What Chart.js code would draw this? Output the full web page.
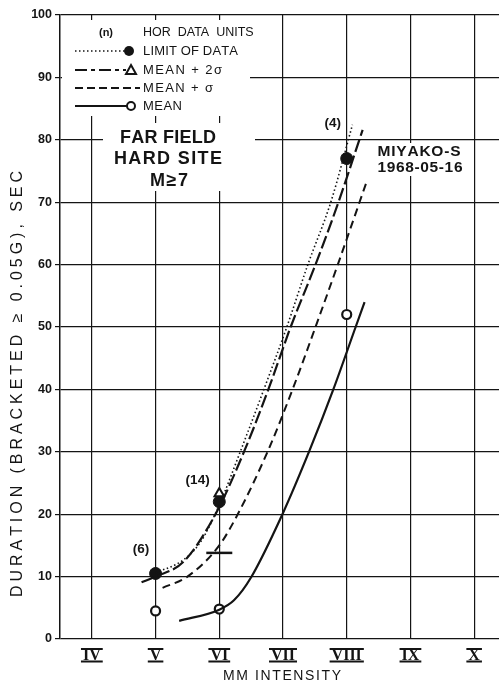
<!DOCTYPE html>
<html>
<head>
<meta charset="utf-8">
<script src="https://cdn.jsdelivr.net/npm/chart.js@4.4.1/dist/chart.umd.min.js"></script>
<style>
  html, body { margin: 0; padding: 0; background: #fff; overflow: hidden; }
  canvas { display: block; }
</style>
</head>
<body>
<canvas id="myChart" width="499" height="687"></canvas>
<script>
// MM intensity ticks (x) and duration ticks (y)
const xTicks = [4, 5, 6, 7, 8, 9, 10]
const romanLabels = ['IV', 'V', 'VI', 'VII', 'VIII', 'IX', 'X']
const yMin = 0
const yMax = 100
const yStep = 10

// curves (intensity, duration sec)
const limitX = [5.0, 5.44, 5.71, 6.0, 6.34, 6.70, 7.06, 7.39, 7.75, 8.09]
const limitY = [10.6, 12.7, 15.6, 21.5, 30.3, 40, 50, 60, 70, 82.4]
const mean2sX = [4.78, 5.0, 5.44, 5.94, 6.4, 6.77, 7.12, 7.51, 7.87, 8.25]
const mean2sY = [9.1, 10.0, 12.4, 20, 30.3, 40, 50, 60, 70, 81.6]
const mean1sX = [5.11, 5.5, 6.0, 6.29, 6.77, 7.15, 7.51, 7.86, 8.31]
const mean1sY = [8.2, 10.0, 15.0, 20, 30.3, 40, 50, 60, 73.2]
const meanX = [5.37, 6.0, 6.23, 6.5, 7.0, 7.42, 7.79, 8.14, 8.28]
const meanY = [2.9, 4.7, 6.2, 9.9, 20.2, 30.3, 40, 50, 54]

// data points
const limitPtsX = [5, 6, 8]
const limitPtsY = [10.5, 22, 77]
const mean2sPtsX = [6]
const mean2sPtsY = [23.3]
const mean1sPtsX = [6]
const mean1sPtsY = [13.8]
const meanPtsX = [5, 6, 8]
const meanPtsY = [4.5, 4.8, 52]

// number of records (n)
const countLabels = ['(6)', '(14)', '(4)']
const countX = [4.77, 5.66, 7.78]
const countY = [14.3, 25.5, 82.7]

const ink = '#141414'
const sans = '"Liberation Sans", Arial, sans-serif'

function pts(xs, ys){
    return xs.map((x, i) => ({x: x, y: ys[i]}))
}

function curve(xs, ys, dash, width){
    return {
        type: 'line',
        data: pts(xs, ys),
        borderColor: ink,
        borderWidth: width,
        borderDash: dash,
        pointRadius: 0,
        cubicInterpolationMode: 'monotone',
        fill: false,
    }
}

function marks(xs, ys, style, radius, bg, bw){
    return {
        type: 'scatter',
        data: pts(xs, ys),
        pointStyle: style,
        pointRadius: radius,
        pointBackgroundColor: bg,
        pointBorderColor: ink,
        pointBorderWidth: bw,
        showLine: false,
    }
}

// draw text stretched with letter spacing to a given width
function spaced(ctx, text, x, y, width, align){
    const chars = Array.from(text)
    const raw = chars.reduce((s, c) => s + ctx.measureText(c).width, 0)
    const gap = chars.length > 1 ? (width - raw) / (chars.length - 1) : 0
    let cx = align == 'center' ? x - width/2 : x
    ctx.save()
    ctx.textAlign = 'left'
    chars.forEach(c => {
        ctx.fillText(c, cx, y)
        cx += ctx.measureText(c).width + gap
    })
    ctx.restore()
}

function drawMarker(ctx, style, x, y){
    ctx.save()
    ctx.setLineDash([])
    ctx.lineWidth = 2
    ctx.strokeStyle = ink
    if(style == 'dot'){
        ctx.fillStyle = ink
        ctx.beginPath(); ctx.arc(x, y, 5, 0, Math.PI*2); ctx.fill()
    } else if(style == 'ring'){
        ctx.fillStyle = '#fff'
        ctx.beginPath(); ctx.arc(x, y, 4, 0, Math.PI*2); ctx.fill(); ctx.stroke()
    } else if(style == 'tri'){
        ctx.fillStyle = '#fff'
        ctx.beginPath(); ctx.moveTo(x, y-5); ctx.lineTo(x+5, y+4); ctx.lineTo(x-5, y+4); ctx.closePath()
        ctx.fill(); ctx.stroke()
    }
    ctx.restore()
}

const textPlugin = {
    id: 'textPlugin',
    beforeDatasetsDraw(chart){
        const ctx = chart.ctx
        ctx.save()
        ctx.fillStyle = '#fff'
        ctx.fillRect(62, 20, 188, 96)   // legend
        ctx.fillRect(103, 123, 152, 68)  // FAR FIELD block
        ctx.fillRect(368, 143, 102, 33)  // MIYAKO block
        ctx.restore()
    },
    afterDatasetsDraw(chart){
        const ctx = chart.ctx
        const xs = chart.scales.x
        const ys = chart.scales.y
        ctx.save()
        ctx.fillStyle = ink
        ctx.strokeStyle = ink
        ctx.textBaseline = 'middle'

        // legend
        ctx.font = 'bold 11px ' + sans
        ctx.textAlign = 'center'
        ctx.fillText('(n)', 106, 33)
        ctx.textAlign = 'left'
        ctx.font = '12.5px ' + sans
        ctx.fillText('HOR  DATA  UNITS', 143, 33)
        ctx.font = '13px ' + sans
        const rows = [
            {y: 51, text: 'LIMIT OF DATA', w: 95, dash: [1.5, 2.5], lw: 1.5, end: 125, m: 'dot'},
            {y: 70, text: 'MEAN + 2\u03c3', w: 79, dash: [12, 4, 4, 4], lw: 2.2, end: 126, m: 'tri'},
            {y: 88, text: 'MEAN + \u03c3', w: 70, dash: [8, 4], lw: 2, end: 140},
            {y: 106, text: 'MEAN', w: 39, dash: [], lw: 2, end: 127, m: 'ring'},
        ]
        rows.forEach(r => {
            spaced(ctx, r.text, 143, r.y, r.w, 'left')
            ctx.save()
            ctx.setLineDash(r.dash)
            ctx.lineWidth = r.lw
            ctx.beginPath(); ctx.moveTo(75, r.y); ctx.lineTo(r.end, r.y); ctx.stroke()
            ctx.restore()
            if(r.m) drawMarker(ctx, r.m, r.m == 'dot' ? 129 : 131, r.y)
        })

        // block titles
        ctx.font = 'bold 18px ' + sans
        spaced(ctx, 'FAR FIELD', 168, 138, 96, 'center')
        spaced(ctx, 'HARD SITE', 168, 159, 108, 'center')
        spaced(ctx, 'M\u22657', 169, 181, 38, 'center')
        ctx.font = 'bold 15.5px ' + sans
        spaced(ctx, 'MIYAKO-S', 419, 152, 83, 'center')
        spaced(ctx, '1968-05-16', 420, 168, 85, 'center')

        // (n) counts
        ctx.textAlign = 'center'
        ctx.font = 'bold 13.5px ' + sans
        countLabels.forEach((t, i) => {
            ctx.fillText(t, xs.getPixelForValue(countX[i]), ys.getPixelForValue(countY[i]))
        })

        // roman numeral tick labels with bars
        ctx.font = 'bold 16px "Liberation Serif", "Times New Roman", serif'
        const ly = 655
        xTicks.forEach((v, i) => {
            const px = xs.getPixelForValue(v)
            const w = ctx.measureText(romanLabels[i]).width + 4
            ctx.fillText(romanLabels[i], px, ly + 1)
            ctx.lineWidth = 2
            ctx.beginPath()
            ctx.moveTo(px - w/2, ly - 6); ctx.lineTo(px + w/2, ly - 6)
            ctx.moveTo(px - w/2, ly + 6.5); ctx.lineTo(px + w/2, ly + 6.5)
            ctx.stroke()
        })

        // axis titles
        ctx.font = '14px ' + sans
        spaced(ctx, 'MM INTENSITY', 282, 676, 118, 'center')
        ctx.translate(18, 384)
        ctx.rotate(-Math.PI/2)
        ctx.font = '16px ' + sans
        spaced(ctx, 'DURATION (BRACKETED \u2265 0.05G), SEC', 0, 0, 426, 'center')
        ctx.restore()
    }
}

const chart1 = document.getElementById('myChart')

new Chart(chart1, {
    data: {
        datasets: [
            curve(limitX, limitY, [1.5, 2.5], 1.6),
            curve(mean2sX, mean2sY, [13, 4], 2.2),
            curve(mean1sX, mean1sY, [8, 5], 2),
            curve(meanX, meanY, [], 2.2),
            marks(mean2sPtsX, mean2sPtsY, 'triangle', 5.5, '#fff', 2),
            marks(limitPtsX, limitPtsY, 'circle', 6, ink, 1),
            marks(mean1sPtsX, mean1sPtsY, 'line', 13, ink, 2.5),
            marks(meanPtsX, meanPtsY, 'circle', 4.5, '#fff', 2.2),
        ]
    },
    options: {
        responsive: false,
        animation: false,
        events: [],
        layout: { autoPadding: false, padding: { top: 15, right: 0, left: 0, bottom: 0 } },
        plugins: {
            legend: { display: false },
            tooltip: { enabled: false },
        },
        scales: {
            x: {
                type: 'linear',
                min: 3.5,
                max: 10.39,
                afterBuildTicks(scale){ scale.ticks = xTicks.map(v => ({value: v})) },
                afterFit(scale){ scale.height = 48 },
                ticks: { display: false },
                grid: { color: ink, lineWidth: 1.2, drawTicks: false },
                border: { display: false },
            },
            y: {
                min: yMin,
                max: yMax,
                afterFit(scale){ scale.width = 60 },
                ticks: {
                    stepSize: yStep,
                    color: ink,
                    padding: 3,
                    font: { family: sans, size: 12.5, weight: 'bold' },
                },
                grid: { color: ink, lineWidth: 1.2, tickLength: 5 },
                border: { color: ink, width: 1.5 },
            }
        }
    },
    plugins: [textPlugin]
})
</script>
</body>
</html>
